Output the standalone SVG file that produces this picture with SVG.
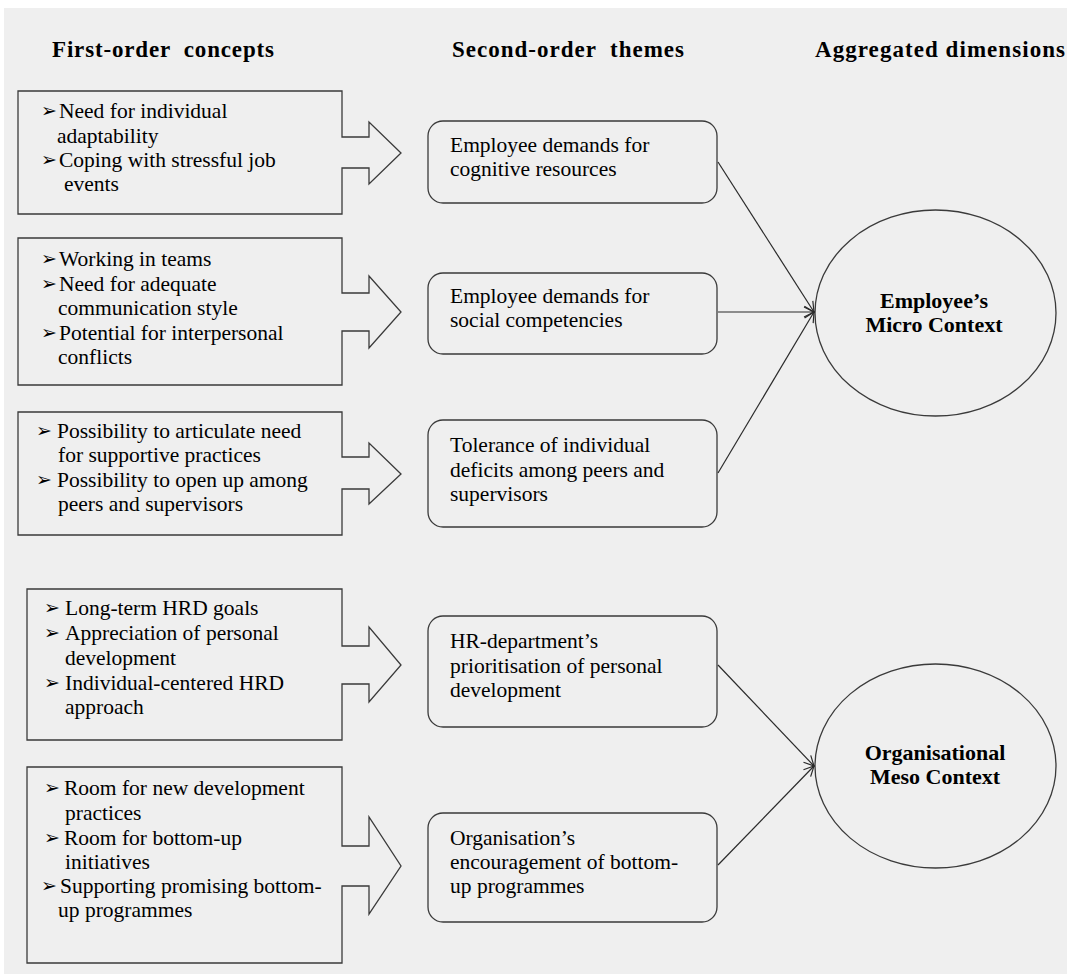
<svg xmlns="http://www.w3.org/2000/svg" width="1067" height="974" viewBox="0 0 1067 974">
<style>
.bg{fill:#efefef}
.box{fill:none;stroke:#3a3a3a;stroke-width:1.3}
.rbox{fill:none;stroke:#3a3a3a;stroke-width:1.3}
.ell{fill:none;stroke:#3a3a3a;stroke-width:1.3}
.t{font-family:"Liberation Serif","Times New Roman",serif;font-size:21.5px;fill:#000}
.h{font-family:"Liberation Serif","Times New Roman",serif;font-size:23px;font-weight:bold;fill:#000}
.b{font-family:"Liberation Serif","Times New Roman",serif;font-size:22px;font-weight:bold;fill:#000}
.bul{font-family:"DejaVu Sans",sans-serif;font-size:19px;fill:#000}
.con{fill:none;stroke:#2a2a2a;stroke-width:1.2}
</style>
<defs>
<marker id="arr" viewBox="0 0 12 12" refX="11" refY="6" markerWidth="12" markerHeight="12" markerUnits="userSpaceOnUse" orient="auto">
<path d="M1,1 L11,6 L1,11" fill="none" stroke="#2a2a2a" stroke-width="1.2"/>
</marker>
</defs>
<rect class="bg" x="4" y="8" width="1063" height="966"/>
<g id="headers">
<text class="h" x="52" y="57" textLength="222" lengthAdjust="spacing" xml:space="preserve">First-order  concepts</text>
<text class="h" x="452" y="57" textLength="232" lengthAdjust="spacing" xml:space="preserve">Second-order  themes</text>
<text class="h" x="815" y="57" textLength="250" lengthAdjust="spacing">Aggregated dimensions</text>
</g>
<g id="concept1">
<path class="box" d="M18,91 H342 V137 H369 V122 L401,153 L369,184 V168 H342 V214 H18 Z"/>
<text class="bul" x="41" y="117">➢</text>
<text class="t" x="59" y="118">Need for individual</text>
<text class="t" x="57" y="143">adaptability</text>
<text class="bul" x="41" y="166">➢</text>
<text class="t" x="59" y="167">Coping with stressful job</text>
<text class="t" x="64" y="191">events</text>
</g>
<g id="concept2">
<path class="box" d="M18,238 H342 V293 H369 V276 L401,312 L369,348 V331 H342 V385 H18 Z"/>
<text class="bul" x="41" y="265">➢</text>
<text class="t" x="59" y="266">Working in teams</text>
<text class="bul" x="41" y="290">➢</text>
<text class="t" x="59" y="291">Need for adequate</text>
<text class="t" x="58" y="315">communication style</text>
<text class="bul" x="41" y="339">➢</text>
<text class="t" x="59" y="340">Potential for interpersonal</text>
<text class="t" x="58" y="364">conflicts</text>
</g>
<g id="concept3">
<path class="box" d="M18,412 H342 V457 H369 V443 L401,474 L369,504 V489 H342 V535 H18 Z"/>
<text class="bul" x="36" y="437">➢</text>
<text class="t" x="57" y="438">Possibility to articulate need</text>
<text class="t" x="58" y="462">for supportive practices</text>
<text class="bul" x="36" y="486">➢</text>
<text class="t" x="57" y="487">Possibility to open up among</text>
<text class="t" x="58" y="511">peers and supervisors</text>
</g>
<g id="concept4">
<path class="box" d="M27,589 H342 V646 H369 V627 L401,665 L369,702 V684 H342 V740 H27 Z"/>
<text class="bul" x="44" y="614">➢</text>
<text class="t" x="65" y="615">Long-term HRD goals</text>
<text class="bul" x="44" y="639">➢</text>
<text class="t" x="65" y="640">Appreciation of personal</text>
<text class="t" x="65" y="665">development</text>
<text class="bul" x="44" y="689">➢</text>
<text class="t" x="65" y="690">Individual-centered HRD</text>
<text class="t" x="65" y="714">approach</text>
</g>
<g id="concept5">
<path class="box" d="M27,767 H342 V846 H369 V817 L401,866 L369,914 V886 H342 V963 H27 Z"/>
<text class="bul" x="44" y="794">➢</text>
<text class="t" x="64" y="795">Room for new development</text>
<text class="t" x="65" y="820">practices</text>
<text class="bul" x="44" y="844">➢</text>
<text class="t" x="64" y="845">Room for bottom-up</text>
<text class="t" x="65" y="869">initiatives</text>
<text class="bul" x="41" y="892">➢</text>
<text class="t" x="60" y="893">Supporting promising bottom-</text>
<text class="t" x="58" y="917">up programmes</text>
</g>
<g id="theme1">
<rect class="rbox" x="428" y="121" width="289" height="82" rx="15"/>
<text class="t" x="450" y="152">Employee demands for</text>
<text class="t" x="450" y="176">cognitive resources</text>
</g>
<g id="theme2">
<rect class="rbox" x="428" y="273" width="289" height="81" rx="15"/>
<text class="t" x="450" y="303">Employee demands for</text>
<text class="t" x="450" y="327">social competencies</text>
</g>
<g id="theme3">
<rect class="rbox" x="428" y="420" width="289" height="107" rx="15"/>
<text class="t" x="450" y="452">Tolerance of individual</text>
<text class="t" x="450" y="477">deficits among peers and</text>
<text class="t" x="450" y="501">supervisors</text>
</g>
<g id="theme4">
<rect class="rbox" x="428" y="616" width="289" height="111" rx="15"/>
<text class="t" x="450" y="648">HR-department’s</text>
<text class="t" x="450" y="673">prioritisation of personal</text>
<text class="t" x="450" y="697">development</text>
</g>
<g id="theme5">
<rect class="rbox" x="428" y="813" width="289" height="109" rx="15"/>
<text class="t" x="450" y="845">Organisation’s</text>
<text class="t" x="450" y="869">encouragement of bottom-</text>
<text class="t" x="450" y="893">up programmes</text>
</g>
<g id="dim1">
<ellipse class="ell" cx="935.5" cy="313" rx="120.5" ry="103"/>
<text class="b" x="934" y="308" text-anchor="middle">Employee’s</text>
<text class="b" x="934" y="332" text-anchor="middle">Micro Context</text>
</g>
<g id="dim2">
<ellipse class="ell" cx="935.5" cy="766" rx="120.5" ry="102"/>
<text class="b" x="935" y="760" text-anchor="middle">Organisational</text>
<text class="b" x="935" y="784" text-anchor="middle">Meso Context</text>
</g>
<g id="connectors">
<line class="con" x1="718" y1="162" x2="814" y2="312" marker-end="url(#arr)"/>
<line class="con" x1="718" y1="312" x2="814" y2="312" marker-end="url(#arr)"/>
<line class="con" x1="718" y1="473" x2="814" y2="312" marker-end="url(#arr)"/>
<line class="con" x1="718" y1="665" x2="814" y2="766" marker-end="url(#arr)"/>
<line class="con" x1="718" y1="865" x2="814" y2="766" marker-end="url(#arr)"/>
</g>
</svg>
